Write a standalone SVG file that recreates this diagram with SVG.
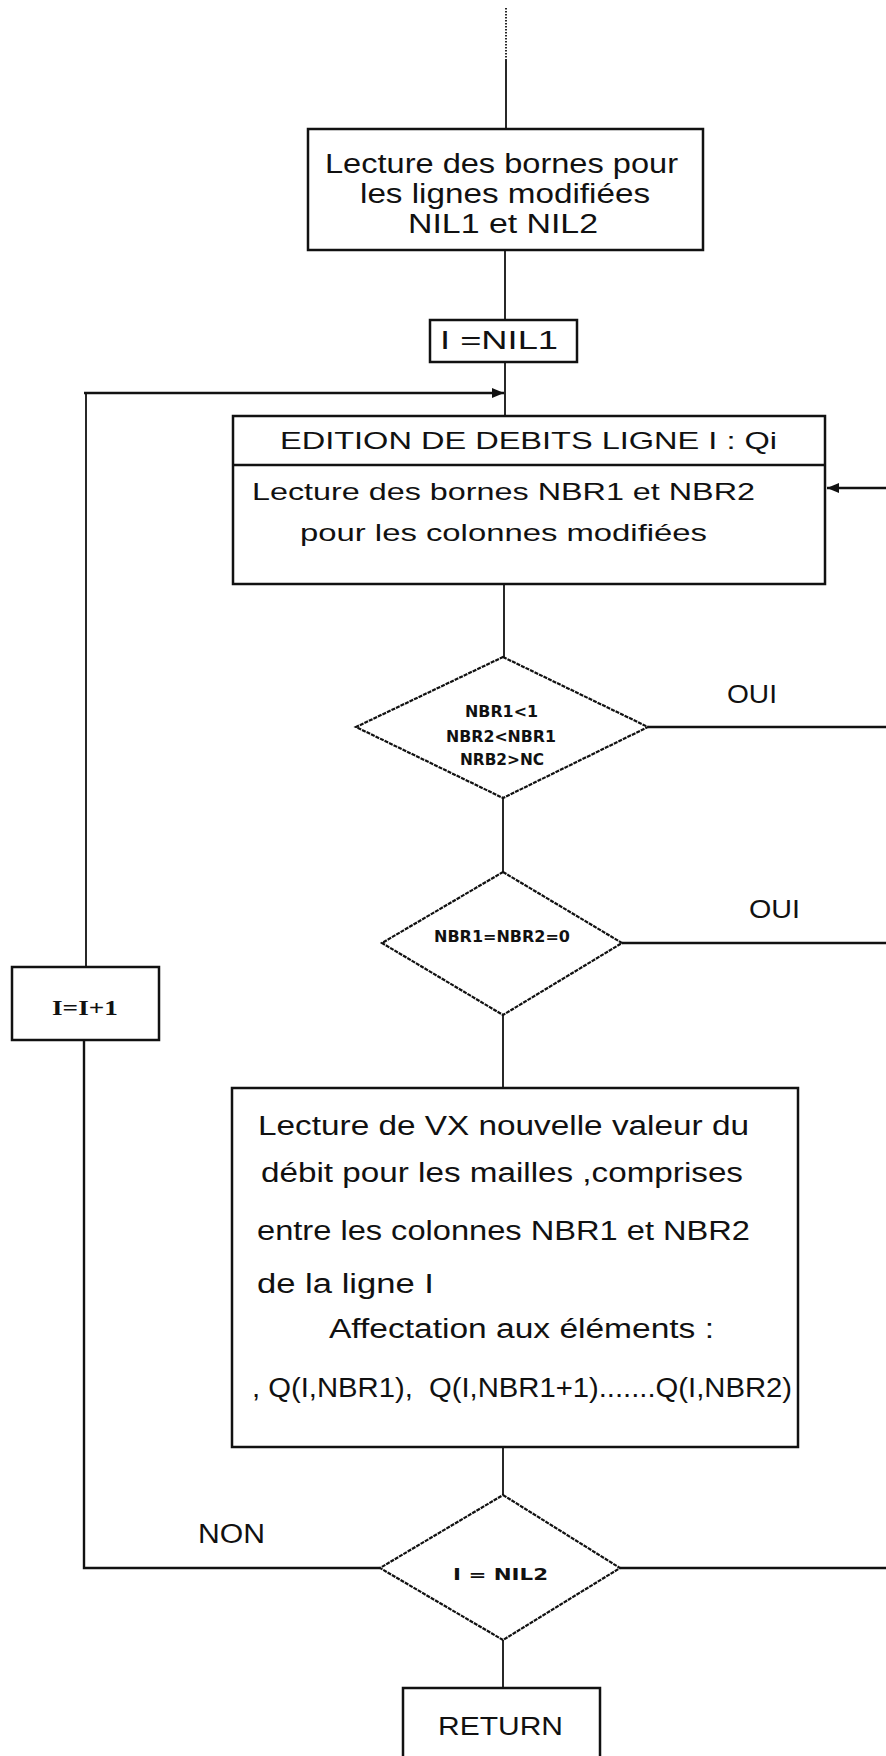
<svg xmlns="http://www.w3.org/2000/svg" width="886" height="1756" viewBox="0 0 886 1756">
<style>
.bg{fill:#fff}
.box{fill:#fff;stroke:#111;stroke-width:2.5}
.dia{fill:#fff;stroke:#111;stroke-width:2.2;stroke-dasharray:4 1}
.ln{fill:none;stroke:#111;stroke-width:1.8}
.hl{fill:none;stroke:#111;stroke-width:2.4}
.t{font-family:"Liberation Sans",Arial,sans-serif;font-size:27px;fill:#111}
.m{font-family:"Liberation Sans",Arial,sans-serif;font-size:24px;fill:#111}
.l{font-family:"Liberation Sans",Arial,sans-serif;font-size:25px;fill:#111}
.s{font-family:"DejaVu Sans","Liberation Sans",sans-serif;font-weight:bold;font-size:15px;fill:#111}
.r{font-family:"Liberation Serif","Times New Roman",serif;font-weight:bold;font-size:22px;fill:#111}
</style>
<defs>
<marker id="ah" viewBox="0 0 12 10" refX="12" refY="5" markerWidth="12" markerHeight="10" markerUnits="userSpaceOnUse" orient="auto">
<path d="M0,0 L12,5 L0,10 Z" fill="#111"/>
</marker>
</defs>
<rect class="bg" x="0" y="0" width="886" height="1756"/>

<g id="connectors">
<line class="ln" x1="506" y1="8" x2="506" y2="60" stroke-dasharray="1.5 1.5"/>
<line class="ln" x1="506" y1="60" x2="506" y2="129"/>
<line class="ln" x1="505" y1="250" x2="505" y2="320"/>
<line class="ln" x1="505" y1="362" x2="505" y2="416"/>
<line class="ln" x1="504" y1="584" x2="504" y2="657"/>
<line class="hl" x1="648" y1="727" x2="886" y2="727"/>
<line class="ln" x1="503" y1="798" x2="503" y2="872"/>
<line class="hl" x1="622" y1="943" x2="886" y2="943"/>
<line class="ln" x1="503" y1="1015" x2="503" y2="1088"/>
<line class="ln" x1="503" y1="1447" x2="503" y2="1495"/>
<line class="hl" x1="620" y1="1568" x2="886" y2="1568"/>
<line class="ln" x1="503" y1="1640" x2="503" y2="1688"/>
<polyline class="hl" points="380,1568 84,1568 84,1040"/>
<line class="ln" x1="86" y1="967" x2="86" y2="393"/>
<line class="hl" x1="84" y1="393" x2="504" y2="393" marker-end="url(#ah)"/>
<line class="hl" x1="886" y1="488" x2="827" y2="488" marker-end="url(#ah)"/>
</g>

<g id="n-lecture-bornes">
<rect class="box" x="308" y="129" width="395" height="121"/>
<text class="t" x="325" y="173" textLength="353" lengthAdjust="spacingAndGlyphs">Lecture des bornes pour</text>
<text class="t" x="360" y="203" textLength="290" lengthAdjust="spacingAndGlyphs">les lignes modifiées</text>
<text class="t" x="408" y="233" textLength="190" lengthAdjust="spacingAndGlyphs">NIL1 et NIL2</text>
</g>

<g id="n-i-nil1">
<rect class="box" x="430" y="320" width="147" height="42"/>
<text class="l" x="440" y="349" textLength="118" lengthAdjust="spacingAndGlyphs">I =NIL1</text>
</g>

<g id="n-edition">
<rect class="box" x="233" y="416" width="592" height="168"/>
<line class="box" x1="233" y1="465" x2="825" y2="465"/>
<text class="m" x="280" y="449" textLength="497" lengthAdjust="spacingAndGlyphs">EDITION DE DEBITS LIGNE I : Qi</text>
<text class="m" x="252" y="500" textLength="503" lengthAdjust="spacingAndGlyphs">Lecture des bornes NBR1 et NBR2</text>
<text class="m" x="300" y="541" textLength="407" lengthAdjust="spacingAndGlyphs">pour les colonnes modifiées</text>
</g>

<g id="n-test-bornes">
<polygon class="dia" points="503,657 648,727 503,798 356,727"/>
<text class="s" x="465" y="717" textLength="73" lengthAdjust="spacingAndGlyphs">NBR1&lt;1</text>
<text class="s" x="446" y="742" textLength="110" lengthAdjust="spacingAndGlyphs">NBR2&lt;NBR1</text>
<text class="s" x="460" y="765" textLength="84" lengthAdjust="spacingAndGlyphs">NRB2&gt;NC</text>
</g>
<text class="l" x="727" y="703" textLength="50" lengthAdjust="spacingAndGlyphs">OUI</text>

<g id="n-test-zero">
<polygon class="dia" points="503,872 622,943 503,1015 382,943"/>
<text class="s" x="434" y="942" textLength="136" lengthAdjust="spacingAndGlyphs">NBR1=NBR2=0</text>
</g>
<text class="l" x="749" y="918" textLength="51" lengthAdjust="spacingAndGlyphs">OUI</text>

<g id="n-incr">
<rect class="box" x="12" y="967" width="147" height="73"/>
<text class="r" x="52" y="1015" textLength="66" lengthAdjust="spacingAndGlyphs">I=I+1</text>
</g>

<g id="n-lecture-vx">
<rect class="box" x="232" y="1088" width="566" height="359"/>
<text class="t" x="258" y="1135" textLength="491" lengthAdjust="spacingAndGlyphs">Lecture de VX nouvelle valeur du</text>
<text class="t" x="261" y="1182" textLength="482" lengthAdjust="spacingAndGlyphs">débit pour les mailles ,comprises</text>
<text class="t" x="257" y="1240" textLength="493" lengthAdjust="spacingAndGlyphs">entre les colonnes NBR1 et NBR2</text>
<text class="t" x="257" y="1293" textLength="177" lengthAdjust="spacingAndGlyphs">de la ligne I</text>
<text class="t" x="329" y="1338" textLength="385" lengthAdjust="spacingAndGlyphs">Affectation aux éléments :</text>
<text class="t" x="252" y="1397" textLength="540" lengthAdjust="spacingAndGlyphs" xml:space="preserve">, Q(I,NBR1),  Q(I,NBR1+1).......Q(I,NBR2)</text>
</g>

<g id="n-test-fin">
<polygon class="dia" points="503,1495 620,1568 503,1640 380,1568"/>
<text class="s" x="453" y="1580" textLength="95" lengthAdjust="spacingAndGlyphs">I = NIL2</text>
</g>
<text class="t" x="198" y="1543" textLength="67" lengthAdjust="spacingAndGlyphs">NON</text>

<g id="n-return">
<rect class="box" x="403" y="1688" width="197" height="90"/>
<text class="l" x="438" y="1735" textLength="125" lengthAdjust="spacingAndGlyphs">RETURN</text>
</g>
</svg>
